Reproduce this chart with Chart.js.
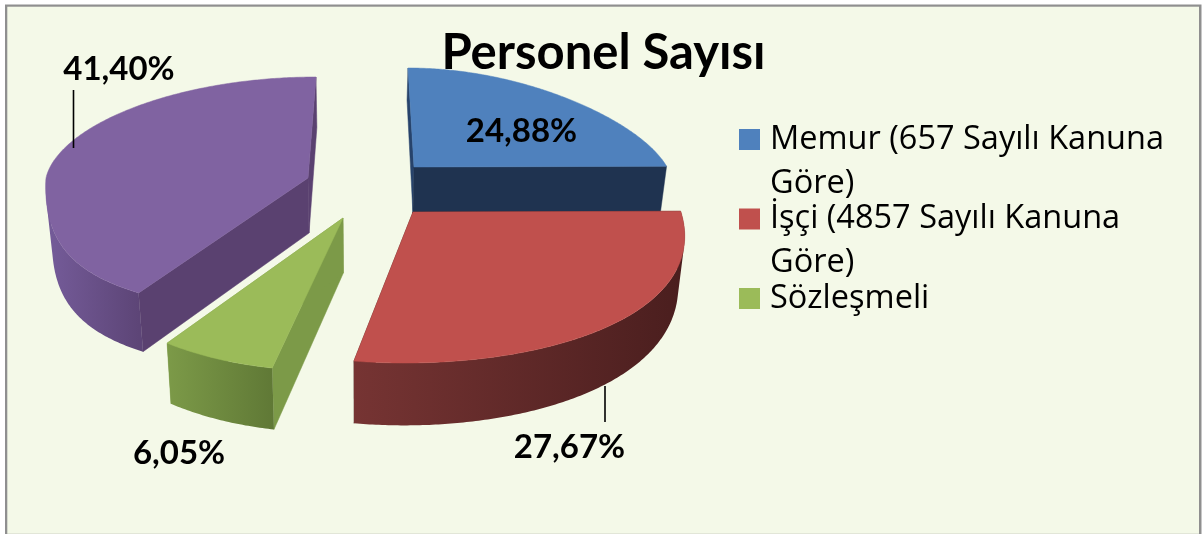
<!DOCTYPE html>
<html lang="tr">
<head>
<meta charset="utf-8">
<style>html,body{margin:0;padding:0;background:#fff}canvas{display:block}</style>
<script src="https://cdn.jsdelivr.net/npm/chart.js@4/dist/chart.umd.js"></script>
</head>
<body>
<canvas id="c" width="1203" height="534"></canvas>
<script>
const titleText = 'Personel Sayısı';
const categories = ['Memur (657 Sayılı Kanuna Göre)', 'İşçi (4857 Sayılı Kanuna Göre)', 'Sözleşmeli', ''];
const legendLines = [['Memur (657 Sayılı Kanuna', 'Göre)'], ['İşçi (4857 Sayılı Kanuna', 'Göre)'], ['Sözleşmeli']];
const shares = [24.88, 27.67, 6.05, 41.40];
const topColors = ['#4F81BD', '#C0504D', '#9BBB59', '#8063A1'];

// Look of each exploded 3D slice, relative to the arc centre and radius the library computes.
const sliceLook = [
  {dx: -18, dy: -143.9, rx: 1.265, far: .495, near: .75, nearSq: 0, skew: 6, pf: .2, pn: .2, pq: 0, d0: 46, dq: .3,
   start: '#27436B', end: '#1F3350', rimL: '#1F3350', rimR: '#1F3350'},
  {dx: -19, dy: -98.9, rx: 1.34, far: .5, near: .755, nearSq: 0, skew: -8, pf: .2, pn: .2, pq: 0, d0: 48, dq: .3,
   start: '#4A1E1E', end: '#4A1E1E', rimL: '#763433', rimR: '#4A1E1E'},
  {dx: -89, dy: -92.9, rx: 1.31, far: .5, near: .5325, nearSq: .23, skew: -21, pf: .2, pn: .2, pq: 0, d0: 55, dq: .12,
   start: '#7C9A48', end: '#7C9A48', rimL: '#7C9A48', rimR: '#607936'},
  {dx: -124, dy: -132.9, rx: 1.31, far: .505, near: .67, nearSq: 0, skew: -8, pf: .06, pn: 0, pq: .28, d0: 55, dq: .08,
   start: '#5A4170', end: '#5A4170', rimL: '#755C9A', rimR: '#5D4577'}
];
const vanishX = 360;
const vanishPull = 0.02;

// Value labels, placed as fractions of the canvas, with optional leader segments.
const labelSpots = [
  {x: .4335, y: .2465},
  {x: .4734, y: .8382},
  {x: .1488, y: .8494},
  {x: .0989, y: .1303}
];
const leaders = [null, {x: 605, y0: 386, y1: 422}, null, {x: 73.5, y0: 90, y1: 148}];
const labelFont = 'bold 33px Lato';

function rimPoint(arc, look, theta) {
  const R = arc.outerRadius;
  const Y = -Math.cos(theta), S = Math.sin(theta);
  const spread = Y < 0 ? 1 + look.pf * Y : 1 + look.pn * Y + look.pq * Y * Y;
  const lift = Y < 0 ? look.far * Y : look.near * Y + look.nearSq * Y * Y;
  return {
    x: arc.x + look.dx + R * look.rx * S * spread + look.skew * Y,
    y: arc.y + look.dy + R * lift,
    Y
  };
}
function drop(p, look) {
  return {x: p.x + (vanishX - p.x) * vanishPull, y: p.y + look.d0 * (1 + look.dq * p.Y)};
}
function poly(ctx, pts, fill) {
  ctx.beginPath();
  pts.forEach((p, i) => i ? ctx.lineTo(p.x, p.y) : ctx.moveTo(p.x, p.y));
  ctx.closePath();
  ctx.fillStyle = fill;
  ctx.strokeStyle = fill;
  ctx.lineWidth = .5;
  ctx.fill();
  ctx.stroke();
}
function signedArea(q) {
  let s = 0;
  q.forEach((p, i) => {
    const r = q[(i + 1) % q.length];
    s += p.x * r.y - r.x * p.y;
  });
  return s;
}
function rimWall(ctx, front, look) {
  const xs = front.map(p => p.x);
  const g = ctx.createLinearGradient(Math.min(...xs), 0, Math.max(...xs), 0);
  g.addColorStop(0, look.rimL);
  g.addColorStop(1, look.rimR);
  ctx.beginPath();
  for (let i = 0; i + 1 < front.length; i++) {
    let q = [front[i], front[i + 1], drop(front[i + 1], look), drop(front[i], look)];
    if (signedArea(q) < 0) q = q.reverse();
    q.forEach((p, k) => k ? ctx.lineTo(p.x, p.y) : ctx.moveTo(p.x, p.y));
    ctx.closePath();
  }
  ctx.fillStyle = g;
  ctx.fill('nonzero');
}
function drawSlice(ctx, arc, look, topColor) {
  const a0 = arc.startAngle + Math.PI / 2, a1 = arc.endAngle + Math.PI / 2;
  const n = Math.max(8, Math.ceil((a1 - a0) / 0.01));
  const rim = [];
  for (let i = 0; i <= n; i++) rim.push(rimPoint(arc, look, a0 + (a1 - a0) * i / n));
  const apex = {x: arc.x + look.dx, y: arc.y + look.dy, Y: 0};
  const apexB = drop(apex, look);
  const first = rim[0], last = rim[n];
  poly(ctx, [apex, first, drop(first, look), apexB], look.start);
  poly(ctx, [apex, last, drop(last, look), apexB], look.end);
  const front = rim.filter(p => p.Y >= 0);
  if (front.length > 1) rimWall(ctx, front, look);
  poly(ctx, [apex].concat(rim), topColor);
}

class Pie3D extends Chart.PieController {
  draw() {
    const ctx = this.chart.ctx;
    this.getMeta().data.forEach((arc, i) => {
      drawSlice(ctx, arc, sliceLook[i], arc.options.backgroundColor);
    });
  }
}
Pie3D.id = 'pie3d';
Chart.register(Pie3D);

const framePlugin = {
  id: 'frame',
  beforeDraw(chart) {
    const ctx = chart.ctx, w = chart.width, h = chart.height;
    ctx.save();
    ctx.fillStyle = '#fff';
    ctx.fillRect(0, 0, w, h);
    ctx.fillStyle = '#8F8F8F';
    ctx.fillRect(5, 4.5, 1196.5, h - 4.5);
    ctx.fillStyle = '#F4F9E8';
    ctx.fillRect(7.3, 6.7, 1191.7, h - 6.7 - 1);
    ctx.fillStyle = '#E2E6D8';
    ctx.fillRect(7.3, h - 1, 1191.7, 1);
    ctx.restore();
  }
};
const legendPlace = {
  id: 'legendPlace',
  afterLayout(chart) {
    const lg = chart.legend;
    lg.left = 753.75;
    lg.top = 131.75;
    lg.draw = lg._draw; // the tight item spacing would otherwise be clipped by the legend box
  }
};
const valueLabels = {
  id: 'valueLabels',
  afterDatasetsDraw(chart) {
    const ctx = chart.ctx;
    ctx.save();
    ctx.fillStyle = '#000';
    ctx.strokeStyle = '#000';
    ctx.lineWidth = 1.6;
    leaders.forEach(l => {
      if (!l) return;
      ctx.beginPath();
      ctx.moveTo(l.x, l.y0);
      ctx.lineTo(l.x, l.y1);
      ctx.stroke();
    });
    ctx.font = labelFont;
    ctx.textAlign = 'center';
    ctx.textBaseline = 'middle';
    shares.forEach((v, i) => {
      ctx.fillText(v.toFixed(2).replace('.', ',') + '%', labelSpots[i].x * chart.width, labelSpots[i].y * chart.height);
    });
    ctx.restore();
  }
};

new Chart(document.getElementById('c'), {
  type: 'pie3d',
  data: {
    labels: categories,
    datasets: [{data: shares, backgroundColor: topColors, borderWidth: 0, radius: 200, clip: false}]
  },
  plugins: [framePlugin, legendPlace, valueLabels],
  options: {
    responsive: false,
    animation: false,
    layout: {padding: {left: 4}},
    plugins: {
      tooltip: {enabled: false},
      title: {
        display: true,
        text: titleText,
        color: '#000',
        font: {family: 'Lato', size: 49, weight: 'bold', lineHeight: 1.2},
        padding: {top: 24, bottom: 5}
      },
      legend: {
        display: true,
        position: 'right',
        align: 'start',
        maxWidth: 343,
        labels: {
          color: '#000',
          font: {family: '"Open Sans"', size: 32.5, lineHeight: 44 / 32.5},
          boxWidth: 8.5,
          boxHeight: 21,
          padding: -8.5,
          usePointStyle: true,
          generateLabels() {
            return legendLines.map((text, i) => ({
              text, fillStyle: topColors[i], strokeStyle: topColors[i], lineWidth: 0,
              pointStyle: 'rect', hidden: false, index: i
            }));
          }
        }
      }
    }
  }
});
</script>
</body>
</html>
